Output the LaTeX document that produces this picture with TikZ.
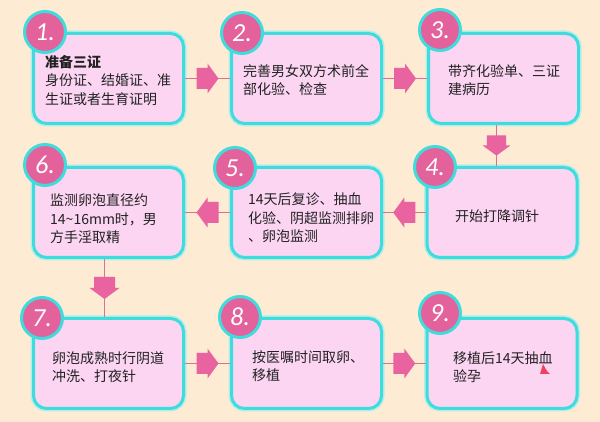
\documentclass[tikz,border=0pt]{standalone}
\usepackage{fontspec}
\setmainfont{Noto Sans CJK SC}
\newfontfamily\numfont{Carlito}
\usetikzlibrary{calc}
\definecolor{bg}{HTML}{FDEBD3}
\definecolor{boxfill}{HTML}{FCD5F3}
\definecolor{cyanb}{HTML}{3FDCDD}
\definecolor{glow}{HTML}{B5EEE6}
\definecolor{pinkc}{HTML}{E3629C}
\definecolor{pinka}{HTML}{E8639F}
\definecolor{pinkl}{HTML}{D9709C}
\definecolor{txt}{HTML}{222222}
\definecolor{fin}{HTML}{F0405A}
\begin{document}
\begin{tikzpicture}[x=1pt,y=1pt,
  stepbox/.style={draw=cyanb, line width=3, fill=boxfill, rounded corners=13,
    minimum width=150, minimum height=90, inner sep=0,
    preaction={draw=glow, line width=6}},
  numcircle/.style={circle, fill=pinkc, draw=cyanb, line width=3, minimum size=41,
    inner sep=0, text=white, font=\numfont\itshape\fontsize{26}{26}\selectfont},
  desc/.style={anchor=north west, inner sep=0, align=left, text=txt,
    font=\fontsize{14}{18.5}\selectfont},
  conn/.style={draw=pinkl, line width=1.5},
  blockarr/.pic={\fill[pinka] (-11,-10.5) -- (0,-10.5) -- (0,-15) -- (11,0) -- (0,15) -- (0,10.5) -- (-11,10.5) -- cycle;}
]
\fill[bg] (0,0) rectangle (600,422);
\useasboundingbox (0,0) rectangle (600,422);

% boxes
\node[stepbox] (b1) at (108.5,343.5) {};
\node[stepbox] (b2) at (306.5,343.5) {};
\node[stepbox] (b3) at (503.5,343.5) {};
\node[stepbox] (b4) at (502,209.5) {};
\node[stepbox] (b5) at (306.5,209.5) {};
\node[stepbox] (b6) at (108.5,209.5) {};
\node[stepbox] (b7) at (108.5,58.5) {};
\node[stepbox] (b8) at (306.5,58.5) {};
\node[stepbox] (b9) at (502,58.5) {};

% connectors
\draw[conn] (b1.east) -- (b2.west);
\draw[conn] (b2.east) -- (b3.west);
\draw[conn] ([xshift=-7]b3.south) -- ([xshift=-7]b3.south |- b4.north);
\draw[conn] (b4.west) -- (b5.east);
\draw[conn] (b5.west) -- (b6.east);
\draw[conn] ([xshift=-4]b6.south) -- ([xshift=-4]b6.south |- b7.north);
\draw[conn] (b7.east) -- (b8.west);
\draw[conn] (b8.east) -- (b9.west);

\path ($(b1.east)!0.5!(b2.west)$) pic{blockarr};
\path ($(b2.east)!0.5!(b3.west)$) pic{blockarr};
\path ($([xshift=-7]b3.south)!0.5!([xshift=-7]b3.south |- b4.north)$) pic[rotate=-90, yscale=0.92, xscale=0.92]{blockarr};
\path ($(b4.west)!0.5!(b5.east)$) pic[rotate=180]{blockarr};
\path ($(b5.west)!0.5!(b6.east)$) pic[rotate=180]{blockarr};
\path ($([xshift=-4]b6.south)!0.5!([xshift=-4]b6.south |- b7.north)$) pic[rotate=-90]{blockarr};
\path ($(b7.east)!0.5!(b8.west)$) pic{blockarr};
\path ($(b8.east)!0.5!(b9.west)$) pic{blockarr};

% number circles
\node[numcircle] (n1) at (45,390) {1.};
\node[numcircle] (n2) at (242,389) {2.};
\node[numcircle] (n3) at (440,392) {3.};
\node[numcircle] (n4) at (435,255) {4.};
\node[numcircle] (n5) at (235,254) {5.};
\node[numcircle] (n6) at (45,257) {6.};
\node[numcircle] (n7) at (42,104) {7.};
\node[numcircle] (n8) at (240,105) {8.};
\node[numcircle] (n9) at (440,109) {9.};

% texts
\node[desc] (t1) at (45,367) {{\bfseries 准备三证}\\身份证、结婚证、准\\生证或者生育证明};
\node[desc] (t2) at (243,358) {完善男女双方术前全\\部化验、检查};
\node[desc] (t3) at (448,358) {带齐化验单、三证\\建病历};
\node[desc] (t4) at (455,212) {开始打降调针};
\node[desc] (t5) at (248,229) {14天后复诊、抽血\\化验、阴超监测排卵\\、卵泡监测};
\node[desc] (t6) at (50,228) {监测卵泡直径约\\14\textasciitilde16mm时，男\\方手淫取精};
\node[desc] (t7) at (52,71) {卵泡成熟时行阴道\\冲洗、打夜针};
\node[desc] (t8) at (252,72) {按医嘱时间取卵、\\移植};
\node[desc] (t9) at (453,71) {移植后14天抽血\\验孕};

% small red mark in box 9
\fill[fin] (540,48) -- (550,48) .. controls (546,51) and (545,55) .. (543,58) -- cycle;
\end{tikzpicture}
\end{document}
